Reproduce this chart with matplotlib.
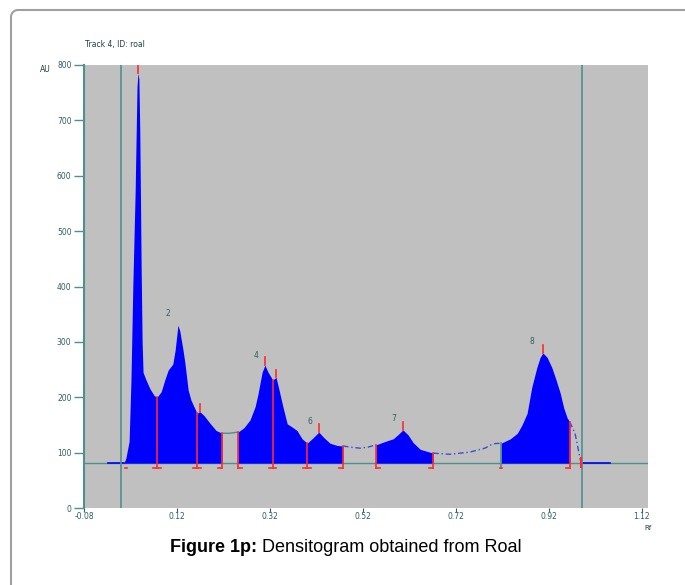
import matplotlib.pyplot as plt
import numpy as np
from matplotlib.lines import Line2D

# densitogram trace, track 4 (roal)
rf = [0.006, 0.010, 0.017, 0.021, 0.025, 0.030, 0.034, 0.036, 0.038, 0.040,
      0.043, 0.045, 0.047, 0.053, 0.062, 0.071, 0.077, 0.086, 0.094, 0.101,
      0.111, 0.116, 0.122, 0.126, 0.133, 0.137, 0.144, 0.150, 0.163, 0.169,
      0.178, 0.191, 0.204, 0.217, 0.234, 0.251, 0.264, 0.277, 0.288, 0.294,
      0.303, 0.309, 0.316, 0.326, 0.333, 0.339, 0.348, 0.357, 0.368, 0.378,
      0.389, 0.400, 0.413, 0.425, 0.436, 0.449, 0.464, 0.477, 0.492, 0.514,
      0.531, 0.548, 0.567, 0.585, 0.596, 0.606, 0.617, 0.628, 0.643, 0.671,
      0.707, 0.750, 0.782, 0.800, 0.817, 0.837, 0.852, 0.862, 0.873, 0.883,
      0.894, 0.901, 0.907, 0.916, 0.926, 0.935, 0.944, 0.952, 0.959, 0.965,
      0.976, 0.982, 0.989]
au = [81, 90, 120, 230, 400, 570, 760, 785, 775, 680,
      430, 300, 245, 232, 215, 203, 200, 210, 232, 249,
      260, 285, 330, 320, 285, 262, 213, 195, 171, 174,
      167, 153, 140, 135, 135, 137, 145, 159, 183, 205,
      245, 258, 245, 231, 236, 215, 182, 152, 146, 140,
      125, 117, 127, 137, 127, 117, 113, 112, 110, 108,
      110, 114, 120, 125, 133, 141, 132, 118, 106, 99,
      97, 101, 108, 116, 117, 125, 135, 150, 171, 218,
      254, 272, 280, 272, 254, 232, 208, 180, 163, 155,
      135, 110, 81]

baseline = 81
fill_regions = [(0.006, 0.217), (0.251, 0.477), (0.548, 0.671), (0.817, 0.965)]
split_lines = [0.077, 0.163, 0.326, 0.400]
peak_rf = [0.036, 0.169, 0.309, 0.333, 0.425, 0.606, 0.907]
peak_names = ["2", "4", "6", "7", "8"]
peak_name_pos = [(0.101, 352), (0.290, 276), (0.406, 157), (0.587, 162), (0.883, 301)]
track_lines = [0.0, 0.99]

xticks = [-0.08, 0.12, 0.32, 0.52, 0.72, 0.92, 1.12]
yticks = [0, 100, 200, 300, 400, 500, 600, 700, 800]

teal = "#4f8f8f"
red = "#ff2a2a"
blue = "#0000ff"
label_col = "#2f5f5f"

rf = np.array(rf)
au = np.array(au)

W, H = 685, 585
fig = plt.figure(figsize=(W / 100, H / 100), dpi=100)
ax = fig.add_axes([84 / W, 77 / H, 564 / W, 443 / H])
ax.set_facecolor("#c0c0c0")
ax.set_xlim(-0.08, 1.133)
ax.set_ylim(0, 800)

# integrated areas
for lo, hi in fill_regions:
    m = (rf >= lo - 1e-9) & (rf <= hi + 1e-9)
    ax.fill_between(rf[m], baseline, au[m], color=blue, lw=0, zorder=3)

# unintegrated parts of the trace
gap = (rf >= 0.217) & (rf <= 0.251)
ax.plot(rf[gap], au[gap], color=teal, lw=1, zorder=3)
for lo, hi in [(0.477, 0.548), (0.671, 0.817), (0.965, 0.989)]:
    m = (rf >= lo - 1e-9) & (rf <= hi + 1e-9)
    ax.plot(rf[m], au[m], color="#3a4fd0", lw=1, ls=(0, (4, 2, 1, 2)), zorder=3)

# baseline and track limits
ax.axhline(baseline, color=teal, lw=1, zorder=2)
ax.plot([-0.028, 0.006], [baseline, baseline], color=blue, lw=1.2, zorder=4)
ax.plot([0.989, 1.051], [baseline, baseline], color=blue, lw=1.2, zorder=4)
for x in track_lines:
    ax.axvline(x, color=teal, lw=1.2, zorder=5)

# peak boundaries
serif_y = 72
sw = 0.008
starts = [lo for lo, hi in fill_regions]
ends = [hi for lo, hi in fill_regions]
for x in split_lines + starts[1:] + ends:
    top = np.interp(x, rf, au)
    col = teal if x == 0.817 else red
    ax.plot([x, x], [serif_y, top], color=col, lw=1.2, zorder=6)
    if x == 0.817:
        ax.plot([x - 0.002, x + 0.002], [serif_y, serif_y], color=red, lw=1.2, zorder=6)
        continue
    left = x - sw if (x in split_lines or x in ends) else x
    right = x + sw if (x in split_lines or x in starts) else x
    ax.plot([left, right], [serif_y, serif_y], color=red, lw=1.2, zorder=6)
ax.plot([0.008, 0.013], [serif_y, serif_y], color=red, lw=1.2, zorder=6)
ax.plot([0.989, 0.989], [74, 90], color=red, lw=1.5, zorder=6)

# peak maxima markers
for x in peak_rf:
    top = np.interp(x, rf, au)
    ax.plot([x, x], [top, top + 14], color=red, lw=1.2, zorder=6)

for name, (x, y) in zip(peak_names, peak_name_pos):
    ax.text(x, y, name, fontsize=5.5, color=label_col, ha="center", va="center", zorder=7)
ax.text(0.144, 191, "-", fontsize=6, color="black", ha="center", va="center", zorder=7)

ax.set_xticks(xticks)
ax.set_xticklabels([f"{t:.2f}" for t in xticks])
ax.set_yticks(yticks)
ax.tick_params(axis="y", length=7, width=1, color=teal, labelsize=5.5, labelcolor=label_col, pad=2)
ax.tick_params(axis="x", length=3, width=0.8, color=label_col, labelsize=5.5, labelcolor=label_col, pad=0)
for s in ["top", "right", "bottom"]:
    ax.spines[s].set_visible(False)
ax.spines["left"].set_color(teal)
ax.spines["left"].set_linewidth(1.5)
ax.spines["left"].set_zorder(6)

fig.text(85 / W, 1 - 45 / H, "Track 4, ID: roal", fontsize=5.5, color="#1f3f3f", va="center")
fig.text(40 / W, 1 - 70 / H, "AU", fontsize=5.5, color="#1f3f3f", va="center")
fig.text(652 / W, 1 - 528 / H, "Rf", fontsize=5, color="#1f3f3f", va="center", ha="right")

# caption
t1 = fig.text(170 / W, 1 - 548 / H, "Figure 1p:", fontsize=13, fontweight="bold",
              family="Liberation Sans", va="center")
fig.add_artist(plt.Annotation(" Densitogram obtained from Roal", xy=(1, 0.5), xycoords=t1,
                              va="center", ha="left", fontsize=13, family="Liberation Sans"))

# page frame: left and top edges with a rounded corner
r = 7
ang = np.linspace(np.pi, np.pi / 2, 12)
fx = np.concatenate([[11], 11 + r + r * np.cos(ang), [W + 5]])
fy = np.concatenate([[-5], H - 10 - r + r * np.sin(ang), [H - 10]])
fig.add_artist(Line2D(fx / W, fy / H, transform=fig.transFigure, color="#a0a0a0", lw=1.5))

fig.savefig("out.png", dpi=100)
